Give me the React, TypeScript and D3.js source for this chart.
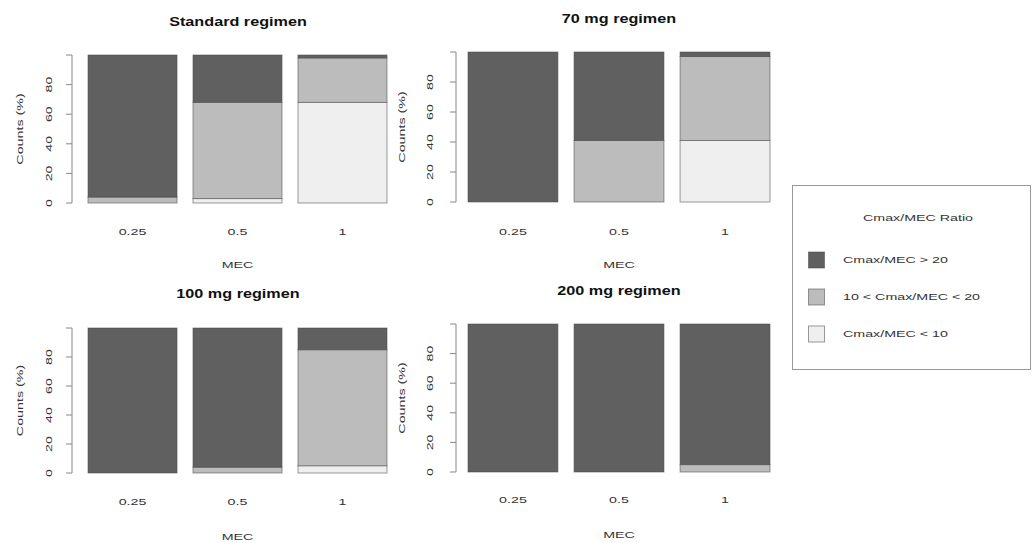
import * as d3 from 'd3'
import React from 'react'

// MEC levels on the x axis
const mecLevels = ['0.25', '0.5', '1']
const ratioKeys = ['low', 'mid', 'high']
const ratioLabels = ['Cmax/MEC > 20', '10 < Cmax/MEC < 20', 'Cmax/MEC < 10']
const yTicks = [0, 20, 40, 60, 80, 100]

// percentages per MEC level (bottom = Cmax/MEC < 10, top = Cmax/MEC > 20)
const standardLow = [0, 3, 68]
const standardMid = [4, 65, 30]
const standardHigh = [96, 32, 2]

const mg70Low = [0, 0, 41]
const mg70Mid = [0, 41, 56]
const mg70High = [100, 59, 3]

const mg100Low = [0, 0, 5]
const mg100Mid = [0, 4, 80]
const mg100High = [100, 96, 15]

const mg200Low = [0, 0, 0]
const mg200Mid = [0, 0, 5]
const mg200High = [100, 100, 95]

const fills: Record<string, string> = { low: '#efefef', mid: '#bcbcbc', high: '#606060' }
const legendFills = ['#606060', '#bcbcbc', '#efefef']

const font = 'Liberation Sans, Arial, sans-serif'

const rows = (low: number[], mid: number[], high: number[]) =>
    mecLevels.map((m, i) => ({ mec: m, low: low[i], mid: mid[i], high: high[i] }))

const panels = [
    { title: 'Standard regimen', data: rows(standardLow, standardMid, standardHigh),
      axisX: 72, bars: [88, 387], top: 55, bottom: 203, titleY: 23, tickY: 232, mecY: 265, labelX: 49, ytitleX: 20, cx: 238 },
    { title: '70 mg regimen', data: rows(mg70Low, mg70Mid, mg70High),
      axisX: 456, bars: [468, 770], top: 52, bottom: 202, titleY: 20, tickY: 232, mecY: 265, labelX: 430, ytitleX: 402, cx: 619 },
    { title: '100 mg regimen', data: rows(mg100Low, mg100Mid, mg100High),
      axisX: 72, bars: [88, 387], top: 328, bottom: 473, titleY: 295, tickY: 502, mecY: 537, labelX: 49, ytitleX: 20, cx: 238 },
    { title: '200 mg regimen', data: rows(mg200Low, mg200Mid, mg200High),
      axisX: 456, bars: [468, 770], top: 324, bottom: 472, titleY: 292, tickY: 500, mecY: 535, labelX: 430, ytitleX: 402, cx: 619 },
]

// text that is stretched along its own direction (the original glyphs are wide)
function T ({ x, y, rot = 0, sx = 1.5, size = 9.5, bold = false, anchor = 'middle', fill = '#333', children }: any) {
    return (
        <text transform={`translate(${x},${y}) rotate(${rot}) scale(${sx},1)`} textAnchor={anchor}
            dominantBaseline='middle' fontSize={size} fontWeight={bold ? 'bold' : 'normal'} fill={fill}>{children}</text>
    )
}

function Panel ({ p }: { p: typeof panels[number] }) {
    const x = d3.scaleBand().domain(mecLevels).range(p.bars as [number, number]).paddingInner(0.152).paddingOuter(0)
    const y = d3.scaleLinear().domain([0, 100]).range([p.bottom, p.top])
    const series = d3.stack<any>().keys(ratioKeys)(p.data)
    const midY = (p.top + p.bottom) / 2

    return (
        <g>
            <T x={p.cx} y={p.titleY} size={12} sx={1.35} bold fill='#111'>{p.title}</T>
            {series.map(s => s.map((d, i) => {
                const h = y(d[0]) - y(d[1])
                if (h <= 0) return null
                return <rect key={s.key + i} x={x(mecLevels[i])} y={y(d[1])} width={x.bandwidth()} height={h}
                    fill={fills[s.key]} stroke='#4a4a4a' strokeOpacity={0.55} strokeWidth={1} />
            }))}
            <line x1={p.axisX} x2={p.axisX} y1={y(0)} y2={y(100)} stroke='#888' />
            {yTicks.map(t => (
                <g key={t}>
                    <line x1={p.axisX - 6} x2={p.axisX} y1={y(t)} y2={y(t)} stroke='#888' />
                    {t < 100 && <T x={p.labelX} y={y(t)} rot={-90}>{t}</T>}
                </g>
            ))}
            <T x={p.ytitleX} y={midY} rot={-90}>Counts (%)</T>
            {mecLevels.map(m => (
                <T key={m} x={x(m)! + x.bandwidth() / 2} y={p.tickY}>{m}</T>
            ))}
            <T x={(p.bars[0] + p.bars[1]) / 2} y={p.mecY}>MEC</T>
        </g>
    )
}

export default function App () {
    const legendY = d3.scalePoint().domain(ratioLabels).range([260, 334])
    return (
        <svg width={1035} height={543} style={{ position: 'absolute', left: 0, top: 0, fontFamily: font }}>
            <rect width={1035} height={543} fill='#fff' />
            {panels.map(p => <Panel key={p.title} p={p} />)}
            <g>
                <rect x={792.5} y={185.5} width={238} height={184} fill='#fff' stroke='#999' />
                <T x={918} y={218}>Cmax/MEC Ratio</T>
                {ratioLabels.map((l, i) => (
                    <g key={l}>
                        <rect x={808.5} y={legendY(l)! - 8} width={16} height={16} fill={legendFills[i]}
                            stroke='#4a4a4a' strokeOpacity={0.55} />
                        <T x={843} y={legendY(l)} anchor='start'>{l}</T>
                    </g>
                ))}
            </g>
        </svg>
    )
}
